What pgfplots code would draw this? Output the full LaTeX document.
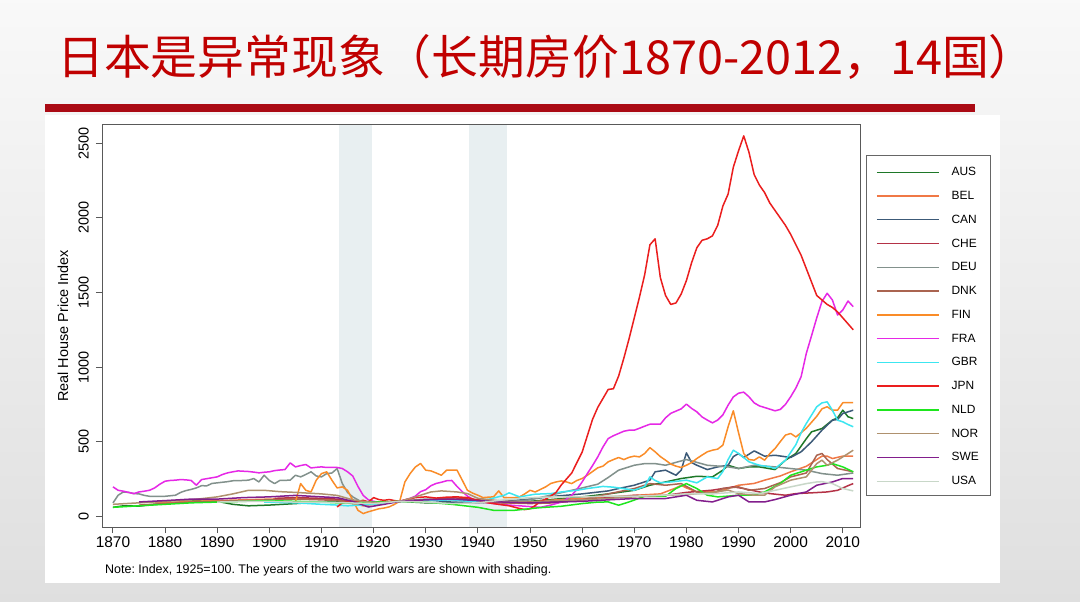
\documentclass[border=0pt]{standalone}
\usepackage{fontspec}
\setmainfont{Liberation Sans}
\newfontfamily\cjk{Noto Sans CJK SC}
\usepackage{pgfplots}
\pgfplotsset{compat=1.18}
\frenchspacing
\definecolor{titlered}{RGB}{192,0,0}
\definecolor{barred}{RGB}{170,10,20}
\definecolor{shadeblue}{RGB}{232,239,241}
\definecolor{cAUS}{RGB}{30,120,40}
\definecolor{cBEL}{RGB}{240,120,70}
\definecolor{cCAN}{RGB}{60,90,120}
\definecolor{cCHE}{RGB}{180,50,70}
\definecolor{cDEU}{RGB}{130,145,140}
\definecolor{cDNK}{RGB}{170,100,80}
\definecolor{cFIN}{RGB}{250,140,40}
\definecolor{cFRA}{RGB}{230,40,230}
\definecolor{cGBR}{RGB}{60,230,240}
\definecolor{cJPN}{RGB}{235,30,30}
\definecolor{cNLD}{RGB}{30,230,30}
\definecolor{cNOR}{RGB}{175,145,110}
\definecolor{cSWE}{RGB}{130,30,140}
\definecolor{cUSA}{RGB}{200,215,200}
\begin{document}
\begin{tikzpicture}
\begin{scope}[shift={(-102bp,-75bp)}]
\shade[top color=gray!5, bottom color=gray!25] (0bp,0bp) rectangle (1080bp,602bp);
\useasboundingbox (0bp,0bp) rectangle (1080bp,602bp);
\fill[white] (45bp,19bp) rectangle (1000bp,487bp);
\fill[barred] (45bp,490bp) rectangle (975bp,498bp);
\node[anchor=base west, inner sep=0pt, text=titlered, font=\cjk\fontsize{47}{50}\selectfont] at (57bp,527bp) {日本是异常现象（长期房价1870-2012，14国）};
\end{scope}
\begin{axis}[
  scale only axis,
  width=758bp, height=402bp,
  xmin=1867.9, xmax=2013.3, ymin=-72, ymax=2623,
  xtick={1870,1880,...,2010}, ytick={0,500,...,2500},
  tick align=outside, xtick pos=bottom, ytick pos=left,
  major tick length=6bp,
  axis line style={draw=black!65, line width=1bp},
  every tick/.style={black!65, line width=0.9bp},
  /pgf/number format/assume math mode=true,
  /pgf/number format/1000 sep={},
  xticklabel style={font=\fontsize{15.5}{16}\selectfont, inner sep=0pt, anchor=north},
  xticklabel shift=4bp,
  yticklabel style={font=\fontsize{14.5}{15}\selectfont, rotate=90, anchor=south, inner sep=0pt},
  yticklabel shift=7bp,
  ylabel={Real House Price Index},
  ylabel style={font=\fontsize{14.5}{15}\selectfont, at={(axis description cs:-0.0515,0.5)}, anchor=center},
  no markers,
  every axis plot/.append style={line width=1.5bp, line join=round},
  legend cell align=left,
  legend style={draw=none, fill=none, at={(axis description cs:1.0211,0.8955)}, anchor=north west, inner sep=0pt, row sep=13.77bp, font=\fontsize{12}{13}\selectfont, nodes={inner sep=0pt, text height=8.5bp, text depth=1.5bp}},
  legend image code/.code={\draw[#1,line width=1.4bp] (0bp,0bp) -- (62bp,0bp); \path[draw=none,fill=none] (62bp,0bp) -- (74.7bp,0bp);},
]
\addplot[fill=shadeblue, draw=none, forget plot] coordinates {(1913.4,-72) (1913.4,2623) (1919.6,2623) (1919.6,-72)};
\addplot[fill=shadeblue, draw=none, forget plot] coordinates {(1938.3,-72) (1938.3,2623) (1945.5,2623) (1945.5,-72)};
% AUS
\addplot[cAUS] coordinates {(1870,60) (1872,70) (1875,68) (1878,80) (1880,85) (1883,95) (1886,105) (1888,115) (1890,100) (1893,80) (1896,70) (1900,75) (1905,85) (1910,95) (1913,100) (1916,85) (1920,80) (1925,100) (1930,90) (1935,90) (1940,95) (1945,90) (1950,100) (1955,115) (1960,130) (1965,150) (1970,174) (1973,208) (1976,230) (1979,253) (1982,268) (1985,264) (1987,309) (1988,342) (1990,320) (1992,331) (1994,331) (1997,313) (1999,376) (2001,421) (2003,520) (2004,566) (2006,588) (2008,644) (2009,660) (2010,711) (2011,667) (2012,655)};
% BEL
\addplot[cBEL] coordinates {(1878,95) (1880,90) (1885,100) (1890,105) (1895,110) (1900,115) (1905,120) (1910,115) (1913,110) (1918,70) (1920,80) (1925,100) (1930,110) (1935,115) (1940,95) (1945,90) (1950,95) (1955,110) (1960,120) (1965,130) (1970,140) (1975,150) (1978,190) (1979,208) (1980,190) (1982,163) (1986,163) (1988,186) (1990,208) (1993,220) (1995,242) (1998,270) (2000,298) (2003,335) (2005,380) (2006,403) (2007,403) (2008,387) (2010,403) (2012,403)};
% CAN
\addplot[cCAN] coordinates {(1921,85) (1925,100) (1930,110) (1935,95) (1940,90) (1945,100) (1950,115) (1955,135) (1960,150) (1965,170) (1967,186) (1970,208) (1973,242) (1974,298) (1976,309) (1978,275) (1979,309) (1980,425) (1981,360) (1982,342) (1984,313) (1986,331) (1988,342) (1989,400) (1990,420) (1991,394) (1993,438) (1995,403) (1997,409) (2000,394) (2002,432) (2004,499) (2006,577) (2008,644) (2009,649) (2010,689) (2011,700) (2012,711)};
% CHE
\addplot[cCHE] coordinates {(1901,120) (1905,125) (1910,120) (1913,115) (1916,95) (1920,90) (1925,100) (1930,110) (1935,125) (1940,110) (1945,100) (1950,95) (1955,100) (1960,110) (1965,125) (1970,140) (1975,135) (1980,160) (1985,175) (1989,197) (1991,186) (1994,163) (1996,152) (1999,141) (2001,152) (2004,157) (2007,163) (2009,174) (2011,205) (2012,219)};
% DEU
\addplot[cDEU] coordinates {(1870,89) (1871,141) (1872,163) (1873,160) (1874,152) (1875,150) (1876,140) (1877,134) (1880,134) (1882,141) (1883,160) (1884,172) (1885,180) (1886,190) (1887,205) (1888,204) (1889,220) (1890,224) (1892,232) (1893,238) (1895,240) (1896,242) (1897,253) (1898,230) (1899,275) (1900,240) (1901,219) (1902,240) (1904,242) (1905,275) (1906,264) (1907,280) (1908,298) (1909,270) (1910,264) (1911,286) (1912,290) (1913,320) (1914,219) (1915,160) (1916,130) (1917,110) (1918,90) (1919,80) (1920,85) (1922,95) (1925,100) (1928,110) (1930,115) (1935,110) (1938,100) (1940,100) (1945,95) (1950,110) (1955,150) (1960,190) (1963,215) (1965,260) (1967,309) (1970,342) (1972,353) (1974,353) (1976,342) (1979,371) (1980,380) (1981,371) (1984,342) (1988,331) (1990,320) (1993,342) (1997,331) (2000,320) (2003,309) (2006,286) (2009,275) (2012,290)};
% DNK
\addplot[cDNK] coordinates {(1875,75) (1880,85) (1885,95) (1890,100) (1895,105) (1900,110) (1905,115) (1910,110) (1913,105) (1916,95) (1920,85) (1925,100) (1930,110) (1935,115) (1940,100) (1945,90) (1950,85) (1955,90) (1960,110) (1965,150) (1970,186) (1973,219) (1976,208) (1979,219) (1982,163) (1985,152) (1987,186) (1990,197) (1992,174) (1995,186) (1998,225) (2000,264) (2003,290) (2005,409) (2006,421) (2007,380) (2009,320) (2012,298)};
% FIN
\addplot[cFIN] coordinates {(1905,96) (1906,219) (1907,174) (1908,163) (1909,242) (1910,286) (1911,298) (1912,242) (1913,190) (1914,197) (1915,174) (1916,107) (1917,40) (1918,18) (1919,30) (1920,40) (1921,50) (1922,55) (1923,63) (1924,80) (1925,100) (1926,230) (1927,286) (1928,330) (1929,354) (1930,309) (1931,304) (1932,290) (1933,275) (1934,309) (1935,310) (1936,309) (1937,242) (1938,174) (1939,155) (1940,141) (1941,125) (1942,128) (1943,130) (1944,170) (1945,125) (1947,125) (1948,130) (1949,150) (1950,174) (1951,163) (1952,180) (1953,197) (1954,220) (1955,230) (1956,237) (1957,230) (1958,219) (1959,240) (1960,253) (1961,275) (1962,300) (1963,325) (1964,336) (1965,365) (1966,380) (1967,394) (1968,380) (1969,395) (1970,403) (1971,398) (1972,421) (1973,460) (1974,432) (1975,400) (1976,376) (1977,350) (1978,336) (1979,327) (1980,342) (1981,360) (1982,387) (1983,410) (1984,432) (1985,443) (1986,450) (1987,477) (1988,600) (1989,707) (1990,560) (1991,420) (1992,380) (1993,376) (1994,398) (1995,376) (1996,420) (1997,454) (1998,500) (1999,544) (2000,555) (2001,532) (2002,560) (2003,590) (2004,630) (2005,670) (2006,720) (2007,734) (2008,711) (2009,711) (2010,761) (2011,761) (2012,761)};
% FRA
\addplot[cFRA] coordinates {(1870,197) (1871,174) (1872,168) (1873,160) (1874,152) (1875,163) (1876,168) (1877,174) (1878,190) (1879,215) (1880,235) (1881,240) (1882,242) (1883,246) (1884,244) (1885,240) (1886,208) (1887,246) (1888,252) (1889,258) (1890,264) (1891,280) (1892,291) (1893,298) (1894,304) (1895,302) (1896,300) (1897,296) (1898,291) (1899,295) (1900,298) (1901,306) (1902,310) (1903,313) (1904,358) (1905,331) (1906,340) (1907,347) (1908,324) (1909,328) (1910,331) (1911,327) (1913,327) (1914,320) (1915,298) (1916,270) (1917,200) (1918,140) (1919,110) (1920,100) (1921,95) (1922,90) (1923,95) (1925,100) (1926,110) (1927,120) (1928,135) (1929,165) (1930,178) (1931,205) (1932,220) (1933,228) (1934,238) (1935,240) (1936,200) (1937,165) (1938,135) (1939,115) (1940,100) (1942,90) (1944,80) (1946,75) (1948,70) (1950,65) (1952,60) (1954,75) (1955,85) (1956,96) (1957,115) (1958,141) (1959,180) (1960,230) (1961,286) (1962,340) (1963,398) (1964,465) (1965,521) (1966,540) (1967,555) (1968,570) (1969,577) (1970,577) (1971,590) (1972,604) (1973,617) (1975,617) (1976,660) (1977,690) (1978,705) (1979,720) (1980,752) (1981,723) (1982,700) (1983,666) (1984,645) (1985,626) (1986,645) (1987,680) (1988,745) (1989,800) (1990,825) (1991,832) (1992,801) (1993,760) (1994,740) (1995,729) (1996,718) (1997,707) (1998,716) (1999,750) (2000,801) (2001,860) (2002,935) (2003,1092) (2004,1210) (2005,1330) (2006,1440) (2007,1495) (2008,1450) (2009,1349) (2010,1383) (2011,1443) (2012,1405)};
% GBR
\addplot[cGBR] coordinates {(1899,95) (1905,90) (1910,80) (1913,75) (1915,70) (1920,80) (1925,100) (1930,105) (1935,110) (1940,95) (1945,140) (1946,157) (1948,130) (1951,148) (1954,152) (1956,163) (1959,174) (1961,186) (1964,200) (1966,195) (1968,185) (1970,175) (1972,200) (1973,264) (1974,240) (1975,225) (1977,230) (1980,242) (1982,224) (1984,264) (1986,253) (1987,300) (1988,380) (1989,443) (1990,421) (1992,365) (1994,342) (1996,331) (1997,320) (1999,376) (2001,480) (2002,560) (2003,622) (2005,734) (2006,760) (2007,767) (2008,711) (2009,644) (2010,633) (2011,615) (2012,600)};
% JPN
\addplot[cJPN] coordinates {(1913,62) (1914,90) (1915,95) (1916,96) (1917,100) (1918,107) (1919,96) (1920,125) (1921,112) (1922,107) (1923,112) (1924,105) (1925,100) (1926,110) (1928,125) (1930,130) (1932,122) (1934,128) (1936,130) (1938,125) (1940,107) (1942,90) (1944,80) (1946,70) (1948,52) (1949,45) (1950,50) (1951,72) (1952,100) (1953,115) (1954,135) (1955,160) (1956,210) (1957,250) (1958,290) (1959,360) (1960,430) (1961,540) (1962,650) (1963,730) (1964,790) (1965,850) (1966,855) (1967,940) (1968,1060) (1969,1190) (1970,1330) (1971,1470) (1972,1620) (1973,1820) (1974,1860) (1975,1600) (1976,1480) (1977,1420) (1978,1430) (1979,1490) (1980,1580) (1981,1700) (1982,1800) (1983,1850) (1984,1860) (1985,1880) (1986,1950) (1987,2080) (1988,2160) (1989,2340) (1990,2450) (1991,2550) (1992,2440) (1993,2290) (1994,2220) (1995,2170) (1996,2100) (1997,2050) (1998,2000) (1999,1950) (2000,1890) (2001,1820) (2002,1750) (2003,1660) (2004,1570) (2005,1480) (2006,1450) (2007,1420) (2008,1400) (2009,1370) (2010,1330) (2011,1290) (2012,1250)};
% NLD
\addplot[cNLD] coordinates {(1870,60) (1875,70) (1880,80) (1885,90) (1890,95) (1895,100) (1900,105) (1905,100) (1910,95) (1913,90) (1915,90) (1920,95) (1925,100) (1930,95) (1935,80) (1940,60) (1943,40) (1947,40) (1952,58) (1956,67) (1960,85) (1963,95) (1965,96) (1967,74) (1969,96) (1972,134) (1976,134) (1978,186) (1980,219) (1982,186) (1984,141) (1986,130) (1988,135) (1990,141) (1993,141) (1995,163) (1998,219) (2000,275) (2003,309) (2005,331) (2007,342) (2008,353) (2010,331) (2012,298)};
% NOR
\addplot[cNOR] coordinates {(1870,80) (1875,90) (1880,100) (1885,110) (1890,130) (1893,150) (1896,174) (1899,174) (1902,165) (1905,160) (1910,150) (1913,140) (1916,110) (1920,90) (1925,100) (1928,130) (1931,163) (1933,170) (1936,163) (1938,152) (1940,120) (1945,100) (1950,95) (1955,105) (1960,110) (1965,120) (1970,130) (1975,140) (1980,145) (1985,160) (1988,175) (1990,152) (1993,141) (1995,141) (1997,197) (2000,242) (2003,264) (2005,353) (2006,376) (2007,342) (2009,376) (2011,420) (2012,443)};
% SWE
\addplot[cSWE] coordinates {(1875,96) (1880,105) (1885,115) (1890,115) (1895,125) (1900,130) (1905,140) (1910,130) (1913,125) (1916,100) (1919,62) (1922,80) (1925,100) (1930,110) (1935,115) (1940,105) (1945,95) (1950,90) (1955,95) (1960,100) (1965,110) (1970,119) (1976,119) (1980,141) (1982,107) (1985,96) (1988,130) (1990,141) (1992,96) (1995,96) (1997,112) (2000,141) (2003,163) (2005,208) (2008,230) (2010,253) (2012,253)};
% USA
\addplot[cUSA] coordinates {(1890,95) (1895,100) (1900,100) (1905,95) (1910,95) (1915,90) (1920,85) (1925,100) (1930,95) (1935,85) (1940,90) (1945,110) (1950,125) (1955,130) (1960,130) (1965,135) (1970,135) (1975,140) (1980,150) (1985,150) (1990,163) (1994,152) (1997,174) (2000,197) (2003,219) (2005,230) (2006,232) (2008,219) (2010,186) (2012,170)};
\legend{AUS,BEL,CAN,CHE,DEU,DNK,FIN,FRA,GBR,JPN,NLD,NOR,SWE,USA}
\end{axis}
\begin{scope}[shift={(-102bp,-75bp)}]
\draw[black!60, line width=0.8bp] (866bp,107bp) rectangle (990bp,447bp);
\node[anchor=base west, inner sep=0pt, font=\fontsize{12.5}{13}\selectfont] at (105bp,29bp) {Note: Index, 1925=100. The years of the two world wars are shown with shading.};
\end{scope}
\end{tikzpicture}
\end{document}
